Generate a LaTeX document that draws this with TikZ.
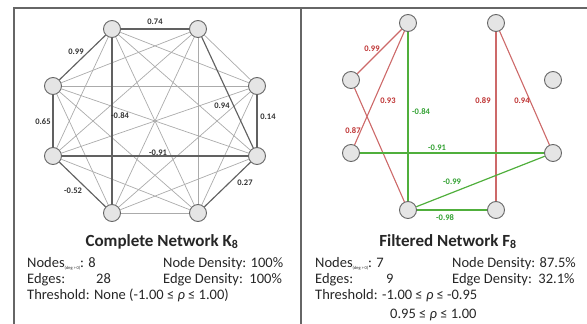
\documentclass[tikz,border=0pt]{standalone}
\usepackage{fontspec}
\setmainfont{Carlito}
\begin{document}
\begin{tikzpicture}[x=1pt,y=-1pt,
  nd/.style={circle,draw=black!60,fill=black!10,line width=0.9pt,minimum size=17pt,inner sep=0pt},
  lite/.style={draw=black!33,line width=0.7pt},
  dark/.style={draw=black!62,line width=1.15pt},
  redE/.style={line width=1.1pt,draw={rgb,255:red,205;green,105;blue,105}},
  grnE/.style={line width=1.2pt,draw={rgb,255:red,80;green,175;blue,60}},
  lbl/.style={font=\fontsize{8.5}{9}\selectfont\bfseries,inner sep=0.5pt,text=black!80},
  rlbl/.style={font=\fontsize{8.5}{9}\selectfont\bfseries,inner sep=0.5pt,text={rgb,255:red,190;green,50;blue,50}},
  glbl/.style={font=\fontsize{8.5}{9}\selectfont\bfseries,inner sep=0.5pt,text={rgb,255:red,50;green,160;blue,50}},
  ttl/.style={font=\fontsize{17}{19}\selectfont\bfseries,anchor=base,text=black!85},
  txt/.style={font=\fontsize{14.5}{16}\selectfont,anchor=base west,inner sep=0pt,text=black!85},
  frame/.style={draw=black!60,line width=1.2pt}]
\useasboundingbox (0,0) rectangle (587,324);
% frame
\draw[frame] (14,324) -- (14,8) -- (587,8);
\draw[frame] (301,8) -- (301,324);
% left nodes
\node[nd] (A) at (112,29) {};
\node[nd] (B) at (198,29) {};
\node[nd] (C) at (53,86) {};
\node[nd] (D) at (257,86) {};
\node[nd] (E) at (53,156) {};
\node[nd] (F) at (257,156) {};
\node[nd] (G) at (112,213) {};
\node[nd] (H) at (198,213) {};
% light edges
\foreach \u/\v in {A/D,A/E,A/F,A/H,B/C,B/D,B/E,B/G,B/H,C/D,C/F,C/G,C/H,D/E,D/G,D/H,E/H,F/G,G/H}{
  \draw[lite] (\u) -- (\v);}
% dark edges
\foreach \u/\v in {A/B,A/C,C/E,A/G,B/F,D/F,E/F,E/G,F/H}{\draw[dark] (\u) -- (\v);}
% left labels
\node[lbl] (l1) at (155,22) {0.74};
\node[lbl] (l2) at (76,52) {0.99};
\node[lbl] (l3) at (43,122) {0.65};
\node[lbl] (l4) at (120,116) {-0.84};
\node[lbl] (l5) at (222,106) {0.94};
\node[lbl] (l6) at (268,117) {0.14};
\node[lbl] (l7) at (158,153) {-0.91};
\node[lbl] (l8) at (73,191) {-0.52};
\node[lbl] (l9) at (245,183) {0.27};
% right nodes
\node[nd] (RA) at (408,23) {};
\node[nd] (RB) at (496,23) {};
\node[nd] (RC) at (351,80) {};
\node[nd] (RD) at (553,80) {};
\node[nd] (RE) at (351,153) {};
\node[nd] (RF) at (553,153) {};
\node[nd] (RG) at (408,210) {};
\node[nd] (RH) at (496,210) {};
\draw[redE] (RA) -- (RC);
\draw[redE] (RA) -- (RE);
\draw[redE] (RC) -- (RG);
\draw[redE] (RB) -- (RH);
\draw[redE] (RB) -- (RF);
\draw[grnE] (RA) -- (RG);
\draw[grnE] (RE) -- (RF);
\draw[grnE] (RG) -- (RF);
\draw[grnE] (RG) -- (RH);
\node[rlbl] (r1) at (372,49) {0.99};
\node[rlbl] (r2) at (388,101) {0.93};
\node[rlbl] (r3) at (353,131) {0.87};
\node[rlbl] (r4) at (483,101) {0.89};
\node[rlbl] (r5) at (522,101) {0.94};
\node[glbl] (g1) at (421,112) {-0.84};
\node[glbl] (g2) at (437,148) {-0.91};
\node[glbl] (g3) at (452,182) {-0.99};
\node[glbl] (g4) at (445,218) {-0.98};
% left text
\node[ttl] (t1) at (162,246) {Complete Network K\textsubscript{8}};
\newcommand{\degsub}{\raisebox{-2pt}{\fontsize{4.5}{5}\selectfont (deg\,>\,0)}}
\node[txt] (a1) at (27,267) {Nodes\degsub: 8};
\node[txt] (a2) at (163,267) {Node Density: 100\%};
\node[txt] (a3) at (27,283) {Edges:};
\node[txt] (a4) at (96,283) {28};
\node[txt] (a5) at (163,283) {Edge Density:\ \ 100\%};
\node[txt] (a6) at (27,299) {Threshold: None (-1.00 ≤ \textit{ρ} ≤ 1.00)};
% right text
\node[ttl] (t2) at (448,246) {Filtered Network F\textsubscript{8}};
\node[txt] (b1) at (315,267) {Nodes\degsub: 7};
\node[txt] (b2) at (452,267) {Node Density: 87.5\%};
\node[txt] (b3) at (315,283) {Edges:};
\node[txt] (b4) at (386,283) {9};
\node[txt] (b5) at (452,283) {Edge Density:\ \ 32.1\%};
\node[txt] (b6) at (315,299) {Threshold: -1.00 ≤ \textit{ρ} ≤ -0.95};
\node[txt] (b7) at (390,318) {0.95 ≤ \textit{ρ} ≤ 1.00};
\end{tikzpicture}
\end{document}
